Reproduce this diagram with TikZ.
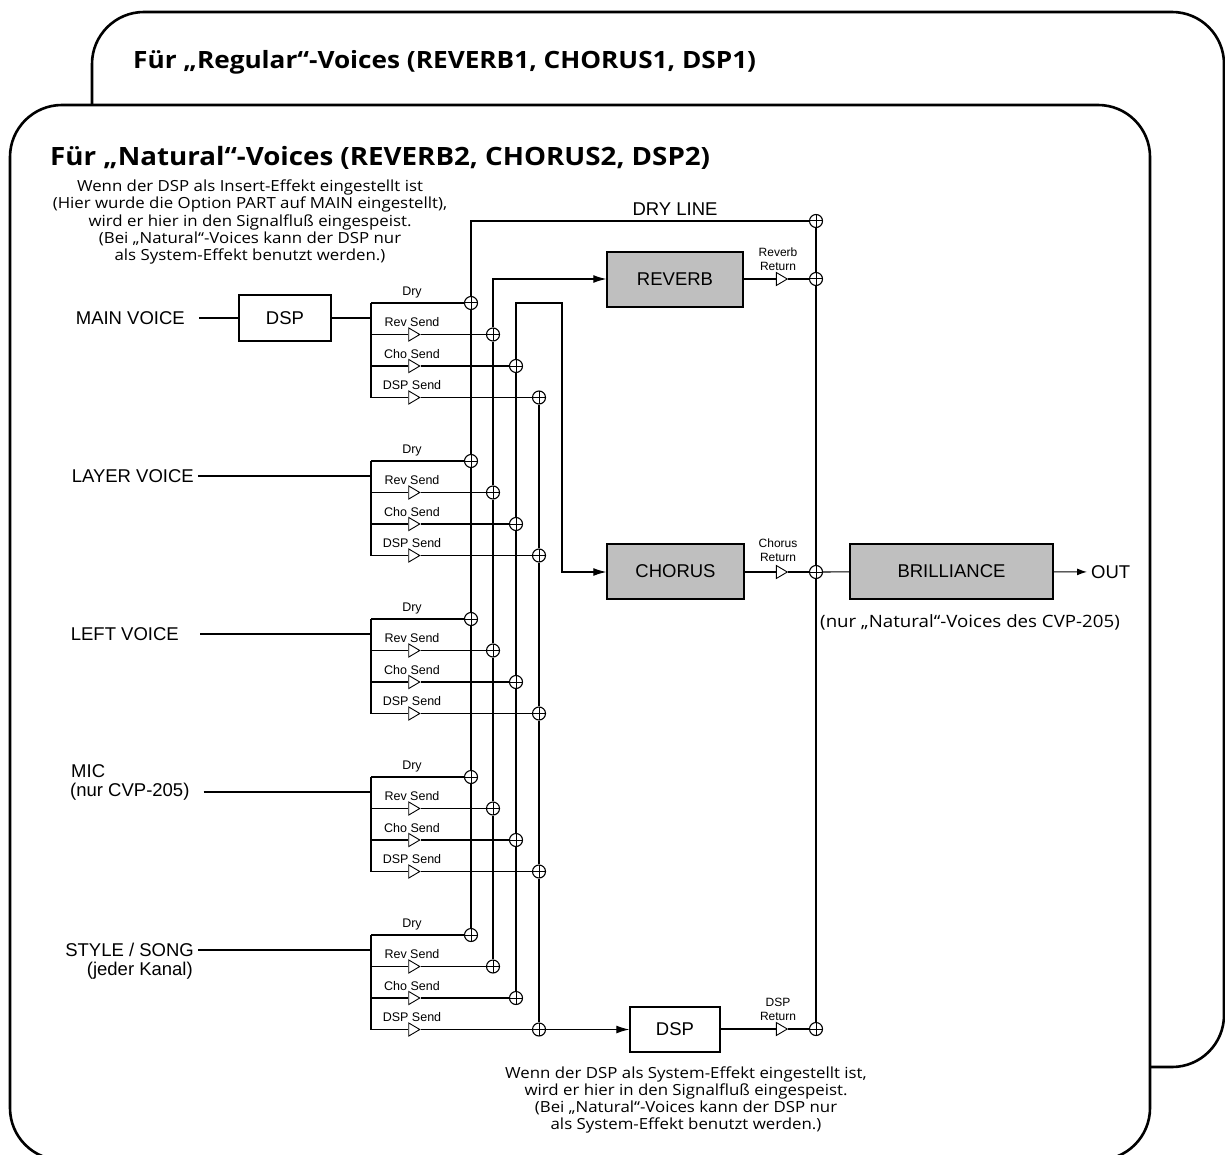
\documentclass[tikz,border=0pt]{standalone}
\usepackage{fontspec}
\setmainfont{Liberation Sans}
\newfontfamily\optw[FakeStretch=1.1]{Open Sans}
\usetikzlibrary{shapes.geometric,arrows.meta,calc}
\begin{document}
\begin{tikzpicture}[x=1pt,y=-1pt,
  frame/.style={line width=2.6pt, rounded corners=52pt},
  wire/.style={line width=1.1pt},
  arr/.style={wire, -{Latex[length=13pt,width=8pt]}},
  blk/.style={draw, line width=1.5pt, inner sep=0pt, font=\fontsize{18.5}{22}\selectfont},
  gblk/.style={blk, fill=gray!50},
  sum/.style={circle, draw, fill=white, minimum size=13pt, inner sep=0pt, line width=1.1pt,
    path picture={\draw[line width=1pt] (path picture bounding box.north) -- (path picture bounding box.south)
      (path picture bounding box.west) -- (path picture bounding box.east);}},
  amp/.style={isosceles triangle, isosceles triangle stretches, draw, fill=white, inner sep=0pt,
    minimum width=13pt, minimum height=11pt, line width=0.9pt},
  lab/.style={inner sep=0pt, font=\fontsize{18.5}{22}\selectfont},
  small/.style={inner sep=0pt, font=\fontsize{12.5}{14}\selectfont},
  ret/.style={inner sep=0pt, align=center, font=\fontsize{12}{14}\selectfont},
  ann/.style={inner sep=0pt, align=center, font=\optw\fontsize{15.3}{17.2}\selectfont},
  head/.style={inner sep=0pt, anchor=west}
]
\useasboundingbox (0,0) rectangle (1225,1155);
\clip (0,0) rectangle (1225,1155);

% frames
\draw[frame, fill=white] (92,12) rectangle (1224,1067);
\node[head, font=\optw\bfseries\fontsize{23.8}{28}\selectfont] (h1) at (133,62) {Für „Regular“-Voices (REVERB1, CHORUS1, DSP1)};
\draw[frame, fill=white] (10,105) rectangle (1150,1160);
\node[head, font=\optw\bfseries\fontsize{25.2}{29}\selectfont] (h2) at (50,158) {Für „Natural“-Voices (REVERB2, CHORUS2, DSP2)};

% annotations
\node[ann] (annTop) at (250,222) {Wenn der DSP als Insert-Effekt eingestellt ist\\(Hier wurde die Option PART auf MAIN eingestellt),\\wird er hier in den Signalfluß eingespeist.\\(Bei „Natural“-Voices kann der DSP nur\\als System-Effekt benutzt werden.)};
\node[ann] (annBot) at (686,1100) {Wenn der DSP als System-Effekt eingestellt ist,\\wird er hier in den Signalfluß eingespeist.\\(Bei „Natural“-Voices kann der DSP nur\\als System-Effekt benutzt werden.)};
\node[ann, font=\optw\fontsize{17}{19}\selectfont] (annBril) at (970,622) {(nur „Natural“-Voices des CVP-205)};

% effect blocks
\node[gblk, minimum width=136pt, minimum height=55pt] (reverb) at (675,279.5) {REVERB};
\node[gblk, minimum width=137pt, minimum height=55pt] (chorus) at (675.5,571.5) {CHORUS};
\node[gblk, minimum width=203pt, minimum height=55pt] (bril) at (951.5,571.5) {BRILLIANCE};
\node[blk, minimum width=90pt, minimum height=45pt] (dspB) at (675,1029.5) {DSP};
\node[blk, minimum width=92pt, minimum height=46pt] (dspA) at (285,318) {DSP};
\node[lab, anchor=west] (out) at (1091,572) {OUT};

% output bus sums
\node[sum] (sD) at (816,221) {};
\node[sum] (sR) at (816,279) {};
\node[sum] (sC) at (816,572) {};
\node[sum] (sP) at (816,1029) {};
\node[amp] (aR) at (780,279) {};
\node[amp] (aC) at (780,572) {};
\node[amp] (aP) at (780,1029) {};
\node[ret] (tR) at (778,259) {Reverb\\Return};
\node[ret] (tC) at (778,550.5) {Chorus\\Return};
\node[ret] (tP) at (778,1009) {DSP\\Return};
\node[lab] (dryline) at (675,209) {DRY LINE};

% groups
\foreach \i/\y in {1/303,2/461,3/619,4/777,5/935}{
  \coordinate (t\i) at (371,\y);
  \coordinate (b\i) at (371,\y+94.5);
  \coordinate (in\i) at (371,\y+15);
  \node[sum] (dry\i) at (471,\y) {};
  \node[sum] (rev\i) at (493,\y+31.5) {};
  \node[sum] (cho\i) at (516,\y+63) {};
  \node[sum] (dsp\i) at (539,\y+94.5) {};
  \node[amp] (ar\i) at (412.5,\y+31.5) {};
  \node[amp] (ac\i) at (412.5,\y+63) {};
  \node[amp] (ap\i) at (412.5,\y+94.5) {};
  \node[small] (ld\i) at (412,\y-11) {Dry};
  \node[small] (lr\i) at (412,\y+31.5-12) {Rev Send};
  \node[small] (lc\i) at (412,\y+63-12) {Cho Send};
  \node[small] (lp\i) at (412,\y+94.5-12) {DSP Send};
  \draw[wire] (t\i) -- (b\i);
  \draw[wire] (t\i) -- (dry\i);
  \draw[wire] (t\i |- rev\i) -- (ar\i) -- (rev\i);
  \draw[wire] (t\i |- cho\i) -- (ac\i) -- (cho\i);
  \draw[wire] (b\i) -- (ap\i) -- (dsp\i);
}

% voice labels
\node[lab, anchor=east] (lmain) at (185,318) {MAIN VOICE};
\node[lab, anchor=east] (llayer) at (194,476) {LAYER VOICE};
\node[lab, anchor=east] (lleft) at (179,634) {LEFT VOICE};
\node[lab, anchor=west] (lmic) at (71,771) {MIC};
\node[lab, anchor=west] (lmic2) at (70,792) {(nur CVP-205)};
\node[lab, anchor=east] (lstyle) at (194,950) {STYLE / SONG};
\node[lab, anchor=east] (lstyle2) at (193,971) {(jeder Kanal)};

\draw[wire] ([xshift=14pt]lmain.east) -- (dspA);
\draw[wire] (dspA) -- (in1);
\draw[wire] ([xshift=4pt]llayer.east) -- (in2);
\draw[wire] ([xshift=21pt]lleft.east) -- (in3);
\draw[wire] ([xshift=14pt]lmic2.east) -- (in4);
\draw[wire] ([xshift=4pt]lstyle.east) -- (in5);

% buses
\coordinate (dtop) at (471,221);
\coordinate (rtop) at (493,279);
\coordinate (ctop) at (516,303);
\coordinate (cc) at (562,303);
\coordinate (cb) at (562,572);
\draw[wire] (dry5) -- (dry4) -- (dry3) -- (dry2) -- (dry1) -- (dtop) -- (sD);
\draw[wire] (rev5) -- (rev4) -- (rev3) -- (rev2) -- (rev1);
\draw[arr] (rev1) -- (rtop) -- (reverb.west |- rtop);
\draw[wire] (cho5) -- (cho4) -- (cho3) -- (cho2) -- (cho1);
\draw[arr] (cho1) -- (ctop) -- (cc) -- (cb) -- (chorus.west |- cb);
\draw[wire] (dsp1) -- (dsp2) -- (dsp3) -- (dsp4) -- (dsp5);
\draw[arr] (dsp5) -- (dspB.west |- dsp5);

% returns and output
\draw[wire] (reverb.east |- sR) -- (aR) -- (sR);
\draw[wire] (chorus.east |- sC) -- (aC) -- (sC);
\draw[wire] (dspB.east |- sP) -- (aP) -- (sP);
\draw[wire] (sD) -- (sR) -- (sC) -- (sP);
\draw[wire] (sC) -- (bril);
\draw[wire, -{Latex[length=10pt,width=7pt]}, shorten >=4pt] (bril) -- (out);
\end{tikzpicture}
\end{document}
